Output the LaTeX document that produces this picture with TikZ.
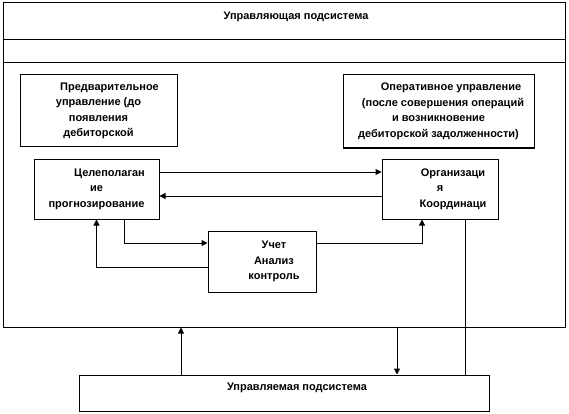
\documentclass[tikz,border=0pt]{standalone}
\usepackage{fontspec}
\setmainfont{Liberation Sans}
\usetikzlibrary{arrows.meta}

\begin{document}
\begin{tikzpicture}[x=1pt,y=-1pt,
  txt/.style={font=\bfseries\fontsize{11}{15.5}\selectfont},
  box/.style={txt,draw,line width=1pt,align=center,inner sep=2pt},
  arr/.style={-{Triangle[length=6pt,width=6pt]},line width=1pt},
  ln/.style={line width=1pt}
]
\useasboundingbox (0,0) rectangle (569,414);
\node[box,minimum width=562,minimum height=324] (ctrl) at (284,165) {};
\node[txt] (title) at (296,17) {Управляющая подсистема};
\draw[ln] ([yshift=-37pt]ctrl.north west) -- ([yshift=-37pt]ctrl.north east);
\draw[ln] ([yshift=-60pt]ctrl.north west) -- ([yshift=-60pt]ctrl.north east);
\node[box,minimum width=157,minimum height=72] (pre) at (98.5,111) {\hspace*{22pt}Предварительное\\управление (до\\появления\\дебиторской};
\node[box,minimum width=191,minimum height=73] (oper) at (438.5,111.5) {\hspace*{25pt}Оперативное управление\\\hspace*{9pt}(после совершения операций\\и возникновение\\дебиторской задолженности)};
\node[box,minimum width=125,minimum height=60] (goal) at (96.5,189) {\hspace*{26pt}Целеполаган\\ие\\прогнозирование};
\node[box,minimum width=116,minimum height=60] (org) at (440,189) {\hspace*{26pt}Организаци\\я\\\hspace*{26pt}Координаци};
\node[box,minimum width=108,minimum height=61] (acct) at (262,261.5) {\hspace*{24pt}Учет\\\hspace*{24pt}Анализ\\\hspace*{24pt}контроль};
\node[box,minimum width=410,minimum height=36,text depth=12pt] (plant) at (284,393) {\hspace*{26pt}Управляемая подсистема};
\draw[arr] ([yshift=17pt]goal.east) -- ([yshift=17pt]org.west);
\draw[arr] ([yshift=-7pt]org.west) -- ([yshift=-7pt]goal.east);
\draw[arr] ([xshift=27.5pt]goal.south) |- ([yshift=18.5pt]acct.west);
\draw[arr] ([yshift=-5.5pt]acct.west) -| (goal.south);
\draw[arr] ([yshift=18.5pt]acct.east) -| ([xshift=-18pt]org.south);
\draw[ln] ([xshift=25pt]org.south) -- ([xshift=181pt]plant.north);
\draw[arr] ([xshift=-103pt]plant.north) -- ([xshift=-103pt]ctrl.south);
\draw[arr] ([xshift=113pt]ctrl.south) -- ([xshift=113pt]plant.north);
\end{tikzpicture}
\end{document}
